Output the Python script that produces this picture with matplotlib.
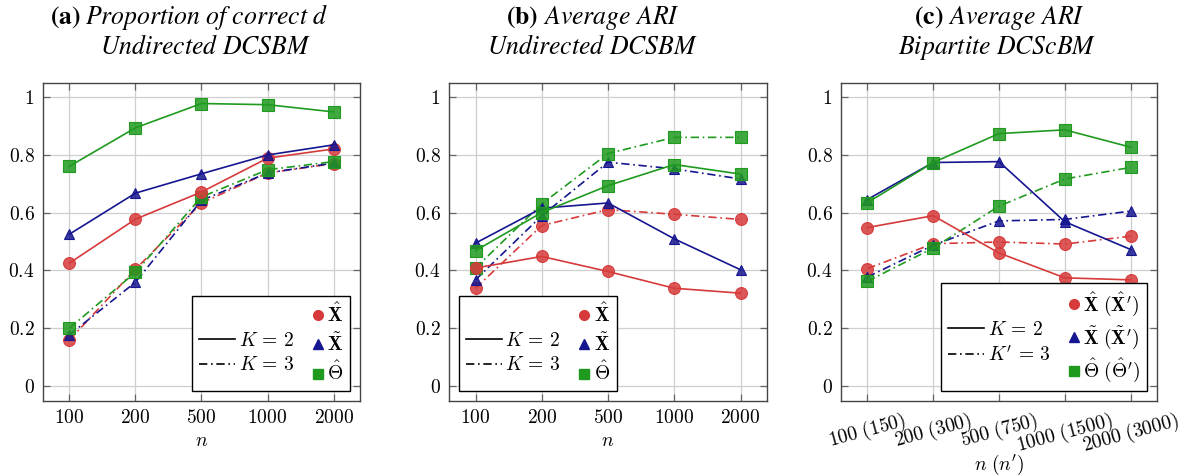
import matplotlib
matplotlib.use('Agg')
import matplotlib.pyplot as plt
from matplotlib.legend_handler import HandlerBase
from matplotlib.lines import Line2D

plt.rcParams['mathtext.fontset'] = 'cm'
plt.rcParams['font.family'] = 'Liberation Serif'

N_LABELS = ['100', '200', '500', '1000', '2000']
N_LABELS_BIP = ['100 (150)', '200 (300)', '500 (750)', '1000 (1500)', '2000 (3000)']
Y_TICKS = [0, 0.2, 0.4, 0.6, 0.8, 1.0]
Y_LABELS = ['0', '0.2', '0.4', '0.6', '0.8', '1']

# (a) proportion of correct d, undirected DCSBM
A_XHAT_K2 = [0.425, 0.577, 0.671, 0.788, 0.820]
A_XTIL_K2 = [0.525, 0.667, 0.734, 0.799, 0.834]
A_THETA_K2 = [0.760, 0.893, 0.977, 0.973, 0.948]
A_XHAT_K3 = [0.159, 0.404, 0.633, 0.737, 0.769]
A_XTIL_K3 = [0.177, 0.359, 0.642, 0.737, 0.771]
A_THETA_K3 = [0.200, 0.393, 0.654, 0.748, 0.776]

# (b) average ARI, undirected DCSBM
B_XHAT_K2 = [0.408, 0.448, 0.396, 0.338, 0.321]
B_XTIL_K2 = [0.494, 0.615, 0.633, 0.509, 0.402]
B_THETA_K2 = [0.468, 0.600, 0.693, 0.766, 0.733]
B_XHAT_K3 = [0.338, 0.555, 0.610, 0.594, 0.576]
B_XTIL_K3 = [0.367, 0.589, 0.774, 0.751, 0.716]
B_THETA_K3 = [0.408, 0.630, 0.804, 0.860, 0.860]

# (c) average ARI, bipartite DCScBM
C_XHAT_K2 = [0.548, 0.589, 0.460, 0.374, 0.367]
C_XTIL_K2 = [0.645, 0.773, 0.776, 0.568, 0.472]
C_THETA_K2 = [0.634, 0.773, 0.873, 0.886, 0.826]
C_XHAT_K3 = [0.406, 0.492, 0.498, 0.491, 0.518]
C_XTIL_K3 = [0.377, 0.487, 0.571, 0.576, 0.605]
C_THETA_K3 = [0.362, 0.477, 0.622, 0.716, 0.756]

RED = '#d63a3a'
BLUE = '#161690'
GREEN = '#1f9a1f'
MARKERS = {RED: ('o', 8.5), BLUE: ('^', 7.5), GREEN: ('s', 8.0)}
DASHDOT = (0, (5, 2.2, 1, 2.2))
FS = 14
TITLE_FS = 18.5


class MarkerRight(HandlerBase):
    # put the marker at the right end of the handle box, close to its label
    def create_artists(self, legend, orig, xdescent, ydescent, width, height, fontsize, trans):
        m = Line2D([width - xdescent - 0.3 * fontsize], [height / 2 - ydescent],
                   ls='none', marker=orig.get_marker(), ms=orig.get_markersize(),
                   mfc=orig.get_markerfacecolor(), mec=orig.get_markeredgecolor(),
                   transform=trans)
        return [m]


def draw_panel(ax, solid, dashed, xlabels, xlabel, rotate, legend_labels, k3_label, legend_loc):
    x = list(range(len(xlabels)))
    for series, ls in ((dashed, DASHDOT), (solid, '-')):
        for vals, color in zip(series, (RED, BLUE, GREEN)):
            mk, ms = MARKERS[color]
            ax.plot(x, vals, color=color, ls=ls, lw=1.2, marker=mk, ms=ms,
                    mfc=matplotlib.colors.to_rgba(color, 0.85), mec=color, mew=0.8)
    ax.set_xlim(-0.4, 4.4)
    ax.set_ylim(-0.052, 1.048)
    ax.set_yticks(Y_TICKS, [f'${s}$' for s in Y_LABELS])
    if rotate:
        ax.set_xticks(x, [f'${s.replace(" ", chr(92) + " ")}$' for s in xlabels],
                      rotation=15, ha='center')
        ax.set_xlabel(xlabel, fontsize=FS, labelpad=-4)
    else:
        ax.set_xticks(x, [f'${s}$' for s in xlabels])
        ax.set_xlabel(xlabel, fontsize=FS, labelpad=4)
    ax.grid(True, color='#cfcfcf', lw=0.9)
    ax.set_axisbelow(True)
    ax.tick_params(direction='in', length=5, width=0.9, color='#666666',
                   top=True, right=True, labelsize=FS, pad=6)
    for sp in ax.spines.values():
        sp.set_color('#444444')
        sp.set_linewidth(1.0)

    blank = Line2D([], [], ls='none')
    k2 = Line2D([], [], color='black', ls='-', lw=1.2)
    k3 = Line2D([], [], color='black', ls=DASHDOT, lw=1.2)
    marks = [Line2D([], [], ls='none', marker=MARKERS[c][0], ms=7, mfc=c, mec=c)
             for c in (RED, BLUE, GREEN)]
    handler = MarkerRight()
    leg = ax.legend([blank, k2, k3] + marks,
                    [' ', r'$K\,=\,2$', k3_label] + legend_labels,
                    ncol=2, loc=legend_loc, fontsize=FS, frameon=True, fancybox=False,
                    handlelength=1.85, handletextpad=0.2, columnspacing=-0.35,
                    labelspacing=0.32, borderpad=0.35, borderaxespad=0.5,
                    handler_map={m: handler for m in marks})
    leg.get_frame().set_edgecolor('black')
    leg.get_frame().set_linewidth(1.0)
    leg.get_frame().set_alpha(1.0)


def math_words(s):
    return s.replace(' ', r'\ ')


def add_title(fig, tag, x_tag, x_it, line1, x_mid, line2):
    W, H = 1185, 476
    fig.text(x_tag / W, 1 - 24 / H, r'$\mathbf{' + tag + '}$', ha='right', va='baseline',
             fontsize=TITLE_FS, math_fontfamily='stix')
    fig.text(x_it / W, 1 - 24 / H, r'$\mathit{' + math_words(line1) + '}$', ha='left',
             va='baseline', fontsize=TITLE_FS, math_fontfamily='stix')
    fig.text(x_mid / W, 1 - 54 / H, r'$\mathit{' + math_words(line2) + '}$', ha='center',
             va='baseline', fontsize=TITLE_FS, math_fontfamily='stix')


def main():
    fig = plt.figure(figsize=(11.85, 4.76), dpi=100)
    W, H = 1185, 476
    bottom = 1 - 401 / H
    height = (401 - 83) / H
    ax_a = fig.add_axes([43 / W, bottom, (360 - 43) / W, height])
    ax_b = fig.add_axes([449 / W, bottom, (767 - 449) / W, height])
    ax_c = fig.add_axes([841 / W, bottom, (1157 - 841) / W, height])

    plain = [r'$\hat{\mathbf{X}}$', r'$\tilde{\mathbf{X}}$', r'$\hat{\mathbf{\Theta}}$']
    bip = [r'$\hat{\mathbf{X}}\ (\hat{\mathbf{X}}^{\prime})$',
           r'$\tilde{\mathbf{X}}\ (\tilde{\mathbf{X}}^{\prime})$',
           r'$\hat{\mathbf{\Theta}}\ (\hat{\mathbf{\Theta}}^{\prime})$']

    draw_panel(ax_a, (A_XHAT_K2, A_XTIL_K2, A_THETA_K2), (A_XHAT_K3, A_XTIL_K3, A_THETA_K3),
               N_LABELS, '$n$', False, plain, r'$K\,=\,3$', 'lower right')
    draw_panel(ax_b, (B_XHAT_K2, B_XTIL_K2, B_THETA_K2), (B_XHAT_K3, B_XTIL_K3, B_THETA_K3),
               N_LABELS, '$n$', False, plain, r'$K\,=\,3$', 'lower left')
    draw_panel(ax_c, (C_XHAT_K2, C_XTIL_K2, C_THETA_K2), (C_XHAT_K3, C_XTIL_K3, C_THETA_K3),
               N_LABELS_BIP, "$n\\ (n')$", True, bip, r"$K'\,=\,3$", 'lower right')

    add_title(fig, '(a)', 81, 85, 'Proportion of correct d', 205, 'Undirected DCSBM')
    add_title(fig, '(b)', 538, 543, 'Average ARI', 592, 'Undirected DCSBM')
    add_title(fig, '(c)', 943, 948, 'Average ARI', 997, 'Bipartite DCScBM')

    fig.savefig('out.png', dpi=100)
    plt.close(fig)


if __name__ == '__main__':
    main()
